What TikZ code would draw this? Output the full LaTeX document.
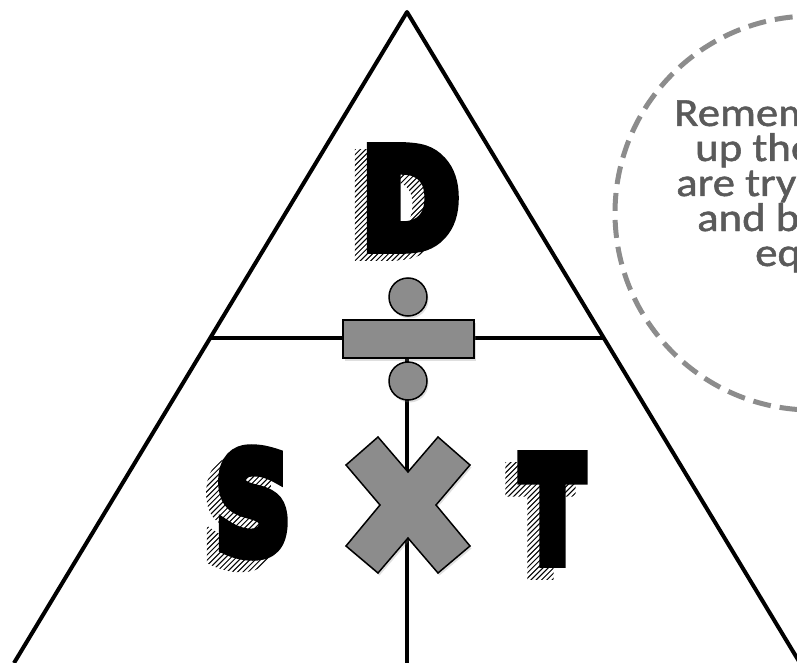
\documentclass[tikz,border=0pt]{standalone}
\usepackage{fontspec}
\usepackage{graphicx}
\usetikzlibrary{shadows}
\newfontfamily\carl{Carlito}[FakeBold=1.2]
\newfontfamily\heavy{DejaVu Sans Bold}[FakeBold=10]
\definecolor{symgray}{RGB}{140,140,140}
\definecolor{dashgray}{RGB}{140,140,140}
\definecolor{txtfill}{RGB}{90,90,90}
\newcommand\glyph[3]{\scalebox{#2}[#3]{\fontsize{10}{12}\heavy #1}}
\newcommand\hatchover[1]{%
  \begin{scope}
    \clip ([shift={(-12,12)}]#1.south west) rectangle ([shift={(12,-12)}]#1.north east);
    \foreach \i in {-160,-154.7,...,160}
      \draw[white,line width=2.4pt] ([xshift=\i pt]#1.center) ++(-150,150) -- ++(300,-300);
  \end{scope}}
\tikzset{
  tri/.style={line width=4pt,line join=round},
  symbol/.style={fill=symgray,draw=black,line width=1.5pt,
    drop shadow={shadow xshift=1.5pt,shadow yshift=-2.5pt,opacity=0.25}},
  dashring/.style={draw=dashgray,line width=5pt,dash pattern=on 18pt off 9pt},
  letter/.style={inner sep=0pt,outer sep=0pt,text=black},
  note/.style={inner sep=0pt,anchor=base west,font=\carl\fontsize{40}{35}\selectfont,text=txtfill}
}
\begin{document}
\begin{tikzpicture}[x=1pt,y=-1pt]
\useasboundingbox (0,0) rectangle (797,663);
\begin{scope}
\clip (0,0) rectangle (797,663);
% frame coordinates
\coordinate (apex) at (407,12);
\coordinate (bl) at (14,663);
\coordinate (br) at (800,663);
\coordinate (hl) at (210,338);
\coordinate (hr) at (604,338);
\coordinate (vt) at (407,338);
\coordinate (vb) at (407,663);
% dashed circle
\draw[dashring] (812,213) circle (197);
% triangle and dividing lines
\draw[tri] (bl) -- (apex) -- (br);
\draw[tri] (hl) -- (hr);
\draw[tri] (vt) -- (vb);
% divide symbol
\path[symbol] (343,320) rectangle (474,358);
\path[symbol] (408,297) circle (19);
\path[symbol] (408,381) circle (19);
% times symbol
\path[symbol,line join=miter] (346,465) -- (378,437) -- (408,472) -- (438,437) -- (470,465) -- (436,505)
  -- (470,546) -- (438,573) -- (408,538) -- (378,573) -- (346,546) -- (380,505) -- cycle;
% letter D
\node[letter] (Dsh) at (398.5,205) {\glyph{D}{11.7}{13.5}};
\hatchover{Dsh}
\node[letter] (D) at (410.5,198) {\glyph{D}{11.7}{13.5}};
% letter S
\node[letter] (Ssh) at (241,514) {\glyph{S}{10.3}{13.6}};
\hatchover{Ssh}
\node[letter] (S) at (253,502.5) {\glyph{S}{10.3}{13.6}};
% letter T
\node[letter] (Tsh) at (540.5,521) {\glyph{T}{9.1}{14.2}};
\hatchover{Tsh}
\node[letter] (T) at (552.5,509) {\glyph{T}{9.1}{14.2}};
% note text
\node[note] (n1) at (674,126) {\scalebox{1.12}[1]{Remem}};
\node[note] (n2) at (695,161) {\scalebox{1.12}[1]{up the}};
\node[note] (n3) at (676,196) {\scalebox{1.12}[1]{are try}};
\node[note] (n4) at (697,231) {\scalebox{1.12}[1]{and b}};
\node[note] (n5) at (755,266) {\scalebox{1.12}[1]{eq}};
\end{scope}
\end{tikzpicture}
\end{document}
